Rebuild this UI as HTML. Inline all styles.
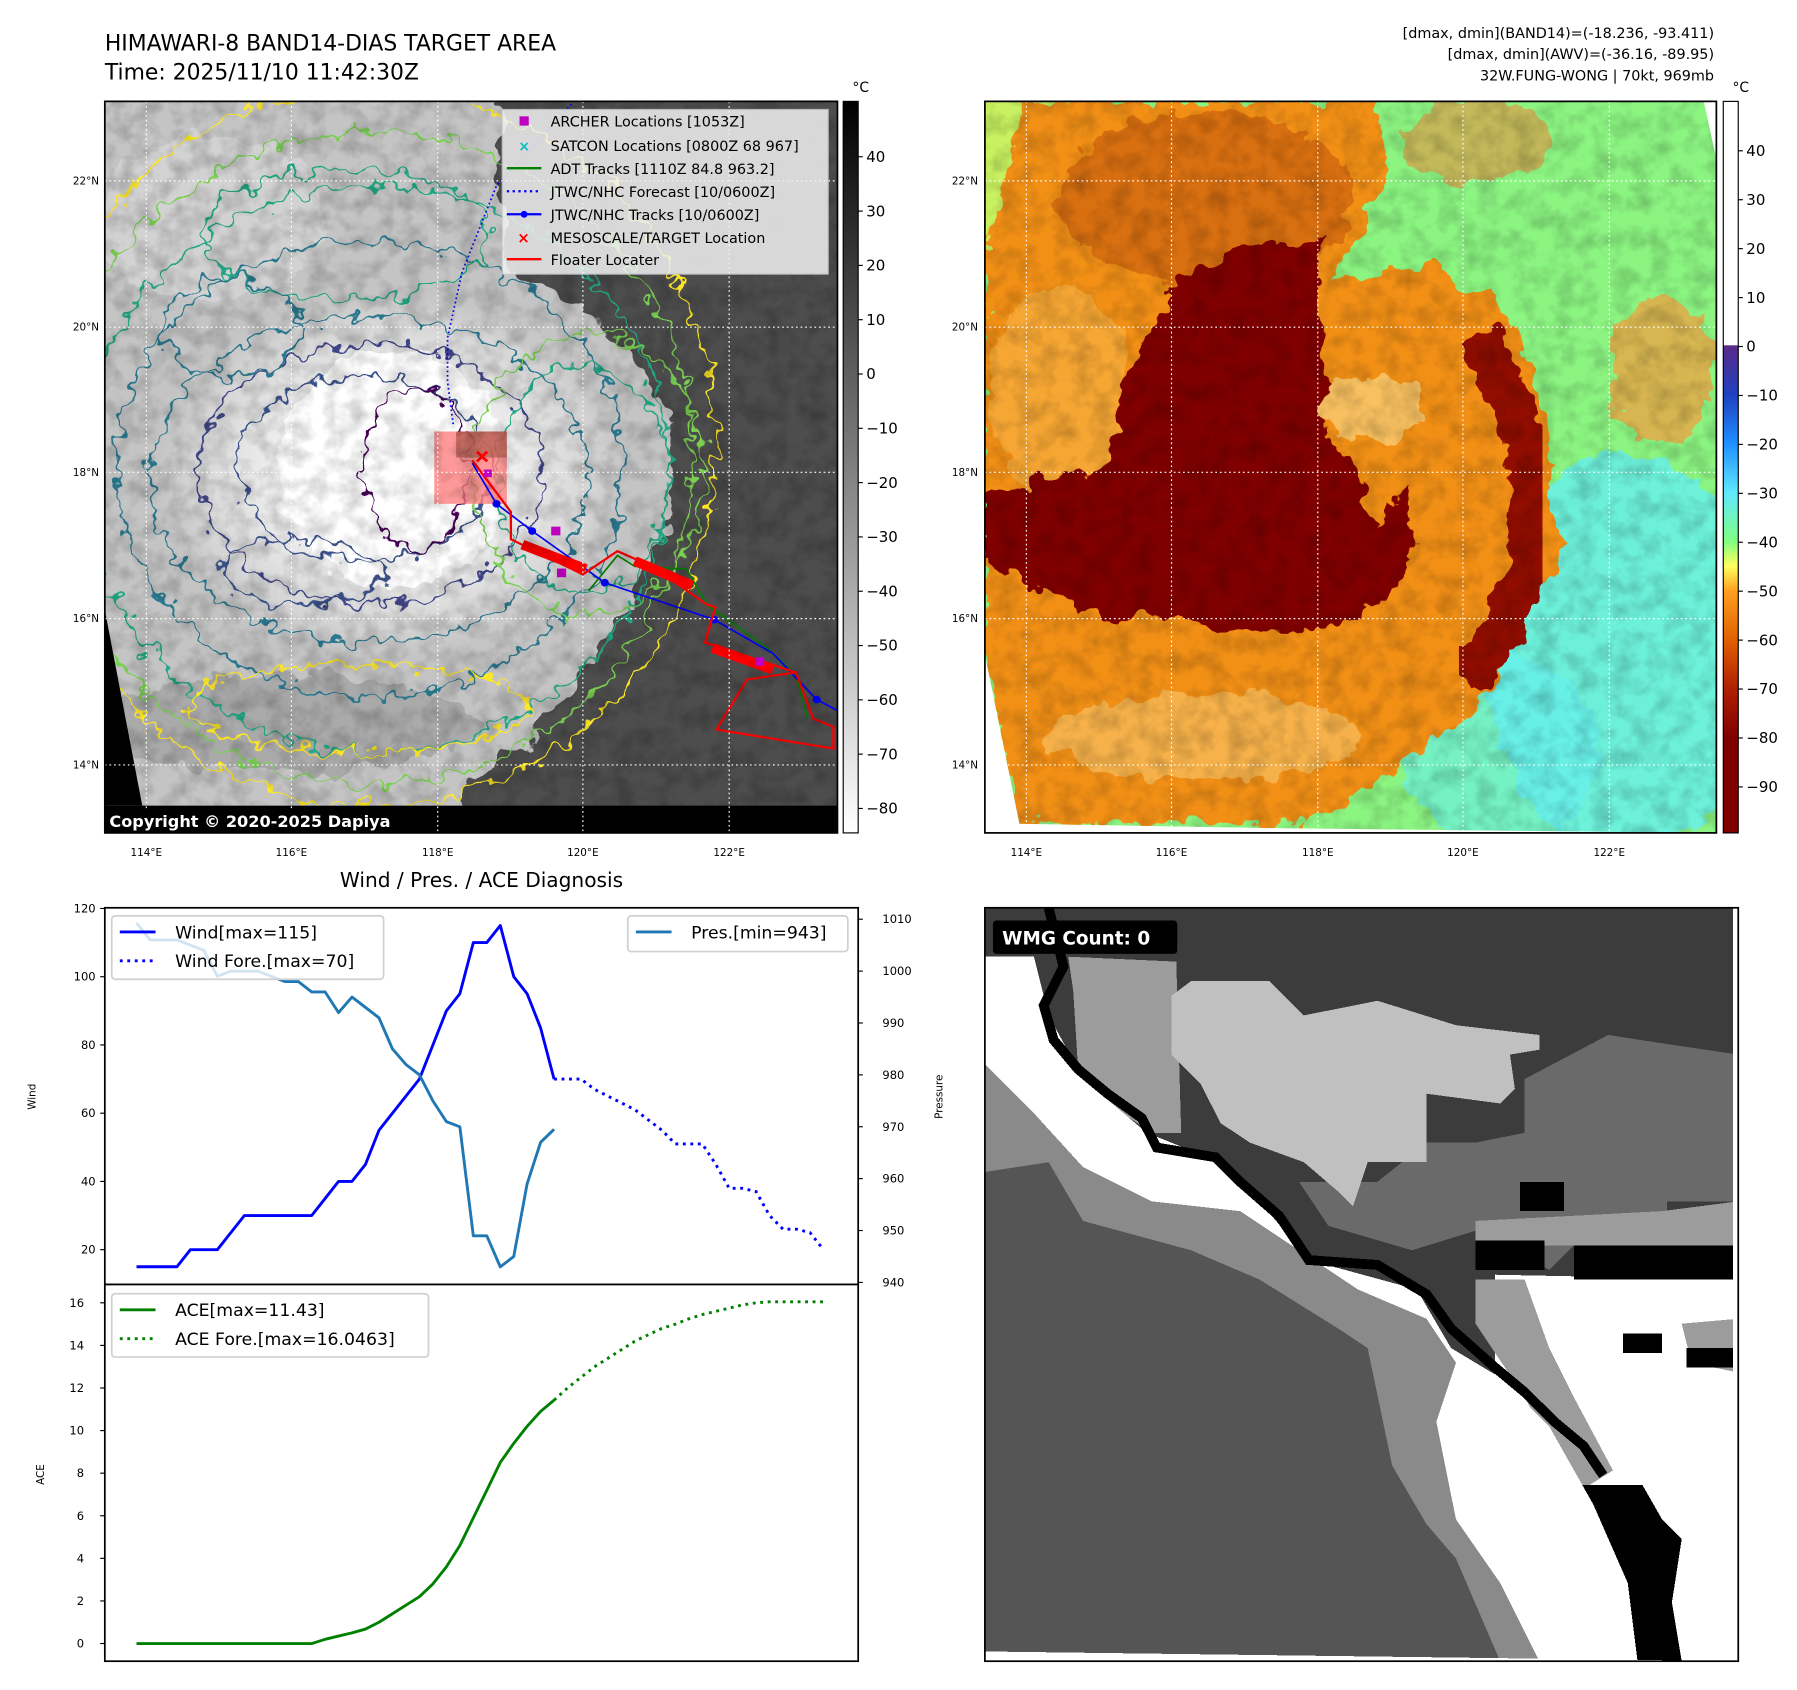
<!DOCTYPE html>
<html><head><meta charset="utf-8"><title>HIMAWARI-8 BAND14 DIAS Target Area</title>
<style>
html,body{margin:0;padding:0;background:#fff;}
svg{display:block;font-family:"DejaVu Sans","Liberation Sans",sans-serif;}
</style></head>
<body>
<svg id="fig" width="1797" height="1690" viewBox="0 0 1560 1467" preserveAspectRatio="none" xmlns="http://www.w3.org/2000/svg">
<defs>
  <filter id="rag" x="-10%" y="-10%" width="120%" height="120%">
    <feTurbulence type="fractalNoise" baseFrequency="0.02" numOctaves="3" seed="4"/>
    <feDisplacementMap in="SourceGraphic" scale="60" xChannelSelector="R" yChannelSelector="G"/>
  </filter>
  <filter id="wig" x="-10%" y="-10%" width="120%" height="120%">
    <feTurbulence type="fractalNoise" baseFrequency="0.035" numOctaves="2" seed="7"/>
    <feDisplacementMap in="SourceGraphic" scale="55" xChannelSelector="R" yChannelSelector="G"/>
  </filter>
  <filter id="soft"><feGaussianBlur stdDeviation="14"/></filter>
  <filter id="noise" x="0" y="0" width="100%" height="100%">
    <feTurbulence type="fractalNoise" baseFrequency="0.06" numOctaves="3" seed="11"/>
    <feColorMatrix type="matrix" values="0 0 0 0 0  0 0 0 0 0  0 0 0 0 0  1.6 0 0 0 -0.6"/>
  </filter>
  <filter id="noiseW" x="0" y="0" width="100%" height="100%">
    <feTurbulence type="fractalNoise" baseFrequency="0.05" numOctaves="3" seed="21"/>
    <feColorMatrix type="matrix" values="0 0 0 0 1  0 0 0 0 0.85  0 0 0 0 0.5  1.8 0 0 0 -0.9"/>
  </filter>
  <radialGradient id="cloudG" cx="0.5" cy="0.5" r="0.5">
    <stop offset="0" stop-color="#ffffff"/><stop offset="0.45" stop-color="#f0f0f0"/>
    <stop offset="0.8" stop-color="#d4d4d4"/><stop offset="1" stop-color="#c0c0c0" stop-opacity="0"/>
  </radialGradient>
  <linearGradient id="cb1" x1="0" y1="0" x2="0" y2="1">
    <stop offset="0" stop-color="#000"/><stop offset="1" stop-color="#fff"/>
  </linearGradient>
  <linearGradient id="cb2" x1="0" y1="0" x2="0" y2="1">
    <stop offset="0" stop-color="#fff"/><stop offset="0.333" stop-color="#fff"/>
    <stop offset="0.334" stop-color="#5a2a8a"/><stop offset="0.401" stop-color="#2040c0"/>
    <stop offset="0.468" stop-color="#1e90ff"/><stop offset="0.535" stop-color="#60e8ff"/>
    <stop offset="0.602" stop-color="#80ff80"/><stop offset="0.635" stop-color="#ffff60"/>
    <stop offset="0.669" stop-color="#ffa020"/><stop offset="0.736" stop-color="#e06000"/>
    <stop offset="0.803" stop-color="#b02000"/><stop offset="0.87" stop-color="#800000"/>
    <stop offset="1" stop-color="#800000"/>
  </linearGradient>
  <clipPath id="clip1"><rect x="91" y="88" width="636" height="635"/></clipPath>
  <clipPath id="clip2"><rect x="855" y="88" width="635" height="635"/></clipPath>
  <clipPath id="clip2d"><polygon points="855,88 1479,88 1490,138 1490,723 1115,719 885,715 855,568"/></clipPath>
  <clipPath id="clip4"><rect x="855" y="788" width="654" height="654"/></clipPath>
</defs>

<!-- Titles -->
<text x="91" y="44" font-size="19">HIMAWARI-8 BAND14-DIAS TARGET AREA</text>
<text x="91" y="69" font-size="19">Time: 2025/11/10 11:42:30Z</text>
<g font-size="12.5" text-anchor="end">
  <text x="1488" y="33">[dmax, dmin](BAND14)=(-18.236, -93.411)</text>
  <text x="1488" y="51">[dmax, dmin](AWV)=(-36.16, -89.95)</text>
  <text x="1488" y="70">32W.FUNG-WONG | 70kt, 969mb</text>
</g>

<!-- MAP 1 -->
<g clip-path="url(#clip1)">
  <g transform="translate(1,0.65) scale(0.5,0.4721)">
    <rect x="180" y="185" width="1272" height="1345" fill="#c4c4c4"/>
    <polygon fill="#4e4e4e" filter="url(#rag)" points="870,150 1500,150 1500,1600 700,1600 800,1450 900,1380 1000,1250 1100,1100 1160,950 1170,780 1120,680 1000,560 880,500 860,300"/>
    <ellipse cx="680" cy="870" rx="440" ry="360" fill="url(#cloudG)"/>
    <ellipse cx="680" cy="860" rx="200" ry="220" fill="#ffffff" filter="url(#rag)"/>
    <ellipse cx="500" cy="1330" rx="330" ry="90" fill="#9a9a9a" opacity="0.6" filter="url(#rag)"/>
    <ellipse cx="360" cy="400" rx="200" ry="150" fill="#d8d8d8" opacity="0.7" filter="url(#rag)"/>
    <g fill="none" stroke-width="4" filter="url(#wig)">
      <ellipse cx="640" cy="820" rx="600" ry="660" stroke="#fde725"/>
      <ellipse cx="640" cy="840" rx="560" ry="600" stroke="#7ad151"/>
      <ellipse cx="650" cy="860" rx="510" ry="520" stroke="#22a884"/>
      <ellipse cx="640" cy="860" rx="440" ry="420" stroke="#2a788e"/>
      <ellipse cx="640" cy="880" rx="380" ry="300" stroke="#2a788e"/>
      <ellipse cx="640" cy="870" rx="300" ry="240" stroke="#414487"/>
      <ellipse cx="630" cy="860" rx="220" ry="170" stroke="#3b528b"/>
      <ellipse cx="720" cy="860" rx="90" ry="150" stroke="#440154"/>
      <ellipse cx="600" cy="430" rx="250" ry="120" stroke="#22a884"/>
      <ellipse cx="1020" cy="870" rx="200" ry="260" stroke="#7ad151"/>
      <ellipse cx="1010" cy="880" rx="150" ry="210" stroke="#22a884"/>
      <ellipse cx="620" cy="1300" rx="300" ry="80" stroke="#fde725"/>
      <ellipse cx="400" cy="600" rx="120" ry="90" stroke="#2a788e"/>
      <ellipse cx="520" cy="1050" rx="140" ry="60" stroke="#3b528b"/>
    </g>
    <polygon fill="#000" points="180,1120 245,1480 180,1480"/>
    <rect x="180" y="1480" width="1272" height="60" fill="#000"/>
    <!-- tracks -->
    <rect x="752" y="792" width="126" height="133" fill="#ff8080" opacity="0.8"/>
    <rect x="790" y="792" width="88" height="48" fill="#a05040" opacity="0.6"/>
    <polyline points="990,190 860,340 800,500 775,620 775,700 785,780" fill="none" stroke="#0000ff" stroke-width="3" stroke-dasharray="3,5"/>
    <polyline points="1020,1085 1070,1020 1100,1040 1190,1045 1225,1110 1330,1190 1380,1240 1400,1320" fill="none" stroke="#008000" stroke-width="3"/>
    <polyline points="818,850 860,925 922,975 1048,1070 1238,1138 1340,1200 1416,1285 1452,1305" fill="none" stroke="#0000ff" stroke-width="3"/>
    <g fill="#0000ff"><circle cx="860" cy="925" r="7"/><circle cx="922" cy="975" r="7"/><circle cx="1048" cy="1070" r="7"/><circle cx="1238" cy="1138" r="7"/><circle cx="1416" cy="1285" r="7"/></g>
    <polyline points="818,845 885,940 885,990 1010,1055 1070,1012 1130,1040 1225,1110 1240,1115 1222,1180 1380,1235 1410,1320 1445,1335 1445,1375 1242,1340 1295,1248 1380,1235" fill="none" stroke="#ff0000" stroke-width="4"/>
    <g stroke="#ff0000" stroke-width="18" fill="none"><line x1="905" y1="1000" x2="1015" y2="1045"/><line x1="1100" y1="1030" x2="1200" y2="1075"/><line x1="1235" y1="1190" x2="1340" y2="1230"/></g>
    <g fill="#c000c0"><rect x="955" y="967" width="16" height="16"/><rect x="965" y="1044" width="16" height="16"/><rect x="1309" y="1207" width="16" height="16"/><rect x="838" y="862" width="14" height="14"/></g>
    <g stroke="#ff0000" stroke-width="5"><line x1="826" y1="829" x2="844" y2="847"/><line x1="844" y1="829" x2="826" y2="847"/></g>
  </g>
  <rect x="91" y="88" width="636" height="635" filter="url(#noise)" opacity="0.25"/>
  <g stroke="#fff" stroke-width="1" stroke-dasharray="1.5,2.5">
    <line x1="127" y1="88" x2="127" y2="723"/><line x1="253" y1="88" x2="253" y2="723"/><line x1="380" y1="88" x2="380" y2="723"/><line x1="506" y1="88" x2="506" y2="723"/><line x1="633" y1="88" x2="633" y2="723"/>
    <line x1="91" y1="157" x2="727" y2="157"/><line x1="91" y1="284" x2="727" y2="284"/><line x1="91" y1="410" x2="727" y2="410"/><line x1="91" y1="537" x2="727" y2="537"/><line x1="91" y1="664" x2="727" y2="664"/>
  </g>
</g>
<rect x="91" y="88" width="636" height="635" fill="none" stroke="#000" stroke-width="1.5"/>
<!-- map1 legend -->
<g font-size="12.5">
  <rect x="436" y="95" width="283" height="143" fill="#f2f2f2" opacity="0.85" stroke="#ccc"/>
  <rect x="451" y="101" width="8" height="8" fill="#c000c0"/>
  <text x="478" y="110">ARCHER Locations [1053Z]</text>
  <text x="450" y="131" fill="#00c0c0" font-size="12" font-weight="bold">×</text>
  <text x="478" y="131">SATCON Locations [0800Z 68 967]</text>
  <line x1="440" y1="146" x2="470" y2="146" stroke="#008000" stroke-width="2"/>
  <text x="478" y="151">ADT Tracks [1110Z 84.8 963.2]</text>
  <line x1="440" y1="166" x2="470" y2="166" stroke="#0000ff" stroke-width="2" stroke-dasharray="2,3"/>
  <text x="478" y="171">JTWC/NHC Forecast [10/0600Z]</text>
  <line x1="440" y1="186" x2="470" y2="186" stroke="#0000ff" stroke-width="2"/><circle cx="455" cy="186" r="3" fill="#0000ff"/>
  <text x="478" y="191">JTWC/NHC Tracks [10/0600Z]</text>
  <text x="449" y="211" fill="#ff0000" font-size="13" font-weight="bold">×</text>
  <text x="478" y="211">MESOSCALE/TARGET Location</text>
  <line x1="440" y1="225" x2="470" y2="225" stroke="#ff0000" stroke-width="2"/>
  <text x="478" y="230">Floater Locater</text>
</g>
<g>
  <rect x="91" y="702" width="269" height="21" fill="#000"/>
  <text x="95" y="718" font-size="14" font-weight="bold" fill="#fff">Copyright © 2020-2025 Dapiya</text>
</g>
<g font-size="9" text-anchor="end">
  <text x="86" y="160">22°N</text><text x="86" y="287">20°N</text><text x="86" y="413">18°N</text><text x="86" y="540">16°N</text><text x="86" y="667">14°N</text>
</g>
<g font-size="9" text-anchor="middle">
  <text x="127" y="743">114°E</text><text x="253" y="743">116°E</text><text x="380" y="743">118°E</text><text x="506" y="743">120°E</text><text x="633" y="743">122°E</text>
</g>
<!-- colorbar 1 -->
<g>
  <rect x="732" y="88" width="13" height="635" fill="url(#cb1)" stroke="#000" stroke-width="1"/>
  <text x="740" y="80" font-size="12">°C</text>
  <g id="cb1ticks" font-size="13"></g>
</g>

<!-- MAP 2 -->
<g clip-path="url(#clip2)">
  <rect x="855" y="88" width="635" height="635" fill="#fff"/>
  <g clip-path="url(#clip2d)">
  <g transform="translate(855,88) scale(0.4262,0.4178)">
    <rect x="0" y="0" width="1490" height="1520" fill="#8cf582"/>
    <ellipse cx="1300" cy="1150" rx="280" ry="420" fill="#66f0f0" filter="url(#rag)" opacity="0.8"/>
    <ellipse cx="1050" cy="1350" rx="200" ry="200" fill="#66f0f0" filter="url(#rag)" opacity="0.6"/>
    <ellipse cx="60" cy="150" rx="150" ry="220" fill="#c8f060" filter="url(#soft)"/>
    <ellipse cx="1380" cy="560" rx="110" ry="150" fill="#f0a040" filter="url(#rag)" opacity="0.75"/>
    <ellipse cx="1000" cy="80" rx="150" ry="90" fill="#e89040" filter="url(#rag)" opacity="0.6"/>
    <polygon fill="#f29018" filter="url(#rag)" points="80,0 800,0 820,150 760,280 700,380 900,340 1050,420 1120,560 1150,700 1150,850 1180,920 1120,1050 1050,1200 960,1300 820,1400 650,1500 70,1500 0,1150 0,300"/>
    <ellipse cx="450" cy="200" rx="300" ry="180" fill="#c85a08" filter="url(#rag)" opacity="0.6"/>
    <ellipse cx="150" cy="600" rx="140" ry="220" fill="#f8b040" filter="url(#rag)" opacity="0.7"/>
    <ellipse cx="450" cy="1320" rx="320" ry="90" fill="#f8c060" filter="url(#rag)" opacity="0.7"/>
    <path d="M1000,480 Q1130,700 1120,900 Q1080,1100 980,1200" fill="none" stroke="#901000" stroke-width="90" filter="url(#rag)"/>
    <polygon fill="#800000" filter="url(#rag)" points="380,380 520,300 680,290 680,560 720,600 680,680 760,760 790,880 870,800 880,900 840,1000 760,1080 650,1100 500,1100 400,1080 200,1060 80,1000 0,950 0,830 100,790 250,760 280,600 350,450"/>
    <ellipse cx="790" cy="640" rx="110" ry="70" fill="#f8c060" filter="url(#rag)"/>
  </g>
  <rect x="855" y="88" width="635" height="635" filter="url(#noise)" opacity="0.22"/>
  </g>
  <g stroke="#fff" stroke-width="1" stroke-dasharray="1.5,2.5">
    <line x1="891" y1="88" x2="891" y2="723"/><line x1="1017" y1="88" x2="1017" y2="723"/><line x1="1144" y1="88" x2="1144" y2="723"/><line x1="1270" y1="88" x2="1270" y2="723"/><line x1="1397" y1="88" x2="1397" y2="723"/>
    <line x1="855" y1="157" x2="1490" y2="157"/><line x1="855" y1="284" x2="1490" y2="284"/><line x1="855" y1="410" x2="1490" y2="410"/><line x1="855" y1="537" x2="1490" y2="537"/><line x1="855" y1="664" x2="1490" y2="664"/>
  </g>
</g>
<rect x="855" y="88" width="635" height="635" fill="none" stroke="#000" stroke-width="1.5"/>
<g font-size="9" text-anchor="end">
  <text x="849" y="160">22°N</text><text x="849" y="287">20°N</text><text x="849" y="413">18°N</text><text x="849" y="540">16°N</text><text x="849" y="667">14°N</text>
</g>
<g font-size="9" text-anchor="middle">
  <text x="891" y="743">114°E</text><text x="1017" y="743">116°E</text><text x="1144" y="743">118°E</text><text x="1270" y="743">120°E</text><text x="1397" y="743">122°E</text>
</g>
<g>
  <rect x="1496" y="88" width="13" height="635" fill="url(#cb2)" stroke="#000" stroke-width="1"/>
  <text x="1504" y="80" font-size="12">°C</text>
  <g id="cb2ticks" font-size="13"></g>
</g>

<!-- PANEL 4 -->
<g clip-path="url(#clip4)">
  <rect x="855" y="788" width="654" height="654" fill="#fff"/>
  <g transform="translate(855,788) scale(0.426,0.4247)" shape-rendering="crispEdges">
    <rect x="0" y="0" width="1535" height="1520" fill="#3c3c3c"/>
    <polygon fill="#6a6a6a" points="1100,350 1270,260 1400,280 1535,300 1535,600 1390,600 1390,700 1200,690 1150,740 1000,660 870,700 700,650 640,560 800,560 900,480 1000,480 1100,460"/>
    <polygon fill="#9c9c9c" points="170,100 390,110 400,460 340,460 250,400 190,330 180,170"/>
    <polygon fill="#9c9c9c" points="1000,640 1380,620 1535,600 1535,700 1270,700 1200,690 1000,690"/>
    <polygon fill="#c0c0c0" points="380,180 420,150 580,150 650,220 800,190 960,240 1130,260 1130,290 1070,300 1080,370 1050,400 900,380 900,520 780,520 750,610 720,580 650,520 540,480 480,440 440,360 380,300"/>
    <polygon fill="#fff" points="1040,750 1535,760 1535,1540 1040,1540"/>
    <polygon fill="#9c9c9c" points="1000,760 1100,760 1150,900 1200,1000 1280,1150 1200,1200 1100,1000 1000,850"/>
    <polygon fill="#9c9c9c" points="1420,850 1535,840 1535,950 1440,930"/>
    <polygon fill="#000" points="1180,1180 1340,1180 1380,1250 1420,1290 1400,1420 1420,1540 1230,1540 1150,1420 1190,1300"/>
    <rect x="1000" y="680" width="140" height="60" fill="#000"/>
    <rect x="1200" y="690" width="335" height="70" fill="#000"/>
    <rect x="1300" y="870" width="80" height="40" fill="#000"/>
    <rect x="1430" y="900" width="105" height="40" fill="#000"/>
    <rect x="1090" y="560" width="90" height="60" fill="#000"/>
    <polygon fill="#fff" points="0,100 100,100 130,220 200,350 330,460 480,520 560,600 660,720 880,780 950,900 1050,960 1150,1060 1240,1220 1310,1380 1330,1540 1130,1540 1050,1380 960,1250 920,1050 960,930 900,840 760,780 640,700 520,620 340,600 200,530 100,420 0,320"/>
    <polygon fill="#8a8a8a" points="0,320 100,420 200,530 340,600 520,620 640,700 760,780 900,840 960,930 920,1050 960,1250 1050,1380 1130,1540 1050,1540 960,1330 900,1260 830,1140 780,900 720,860 560,760 420,700 200,640 130,520 0,540"/>
    <polygon fill="#555" points="0,540 130,520 200,640 420,700 560,760 720,860 780,900 830,1140 900,1260 960,1330 1050,1540 0,1520"/>
    <polyline fill="none" stroke="#000" stroke-width="20" points="130,0 160,120 120,200 140,270 190,330 250,380 320,430 350,490 470,510 520,560 600,630 660,720 800,730 900,790 950,860 1040,940 1100,990 1160,1050 1220,1100 1260,1160"/>
    <polygon fill="#fff" points="0,1520 1535,1540 1535,1560 0,1560"/>
    <rect x="1525" y="0" width="20" height="1560" fill="#fff"/>
  </g>
</g>
<rect x="855" y="788" width="654" height="654" fill="none" stroke="#000" stroke-width="1.5"/>
<g>
  <rect x="862" y="799" width="160" height="29" rx="3" fill="#000"/>
  <text x="870" y="820" font-size="16" font-weight="bold" fill="#fff">WMG Count: 0</text>
</g>

<!-- CHARTS -->
<text x="418" y="770" font-size="17.5" text-anchor="middle">Wind / Pres. / ACE Diagnosis</text>
<g id="charts"></g>
<text transform="translate(31,952) rotate(-90)" font-size="9" text-anchor="middle">Wind</text>
<text transform="translate(818,952) rotate(-90)" font-size="9" text-anchor="middle">Pressure</text>
<text transform="translate(38,1280) rotate(-90)" font-size="9" text-anchor="middle">ACE</text>
</svg>

<script>
// ---- chart data ----
const windObs = [15,15,15,15,20,20,20,25,30,30,30,30,30,30,35,40,40,45,55,60,65,70,80,90,95,110,110,115,100,95,85,70];
const windFore = [70,70,70,67,65,63,61,58,55,51,51,51,45,38,38,37,30,26,26,25,20];
const presObs = [1009.3,1006,1006,1006,1005,1004,999,1000,1000,1000,999,998,998,996,996,992,995,993,991,985,982,980,975,971,970,949,949,943,945,959,967,969.5];
const aceObs = [0,0,0,0,0,0,0,0,0,0,0,0,0,0,0.2,0.35,0.5,0.68,1.0,1.4,1.8,2.2,2.8,3.6,4.6,5.9,7.2,8.5,9.4,10.2,10.9,11.43];
const aceFore = [11.43,12.0,12.5,13.0,13.4,13.8,14.2,14.5,14.8,15.0,15.25,15.45,15.6,15.75,15.9,16.0,16.05,16.05,16.05,16.05,16.05];
const windTicks = [20,40,60,80,100,120];
const presTicks = [940,950,960,970,980,990,1000,1010];
const aceTicks = [0,2,4,6,8,10,12,14,16];
const cb1Ticks = [40,30,20,10,0,-10,-20,-30,-40,-50,-60,-70,-80];
const cb2Ticks = [40,30,20,10,0,-10,-20,-30,-40,-50,-60,-70,-80,-90];

const NS = 'http://www.w3.org/2000/svg';
const PX0 = 91, PX1 = 745, TOP = 788, MID = 1115, BOT = 1442;
function xIdx(i){ return PX0 + (PX1-PX0)*(0.0421 + 0.01788*i); }
function yWind(v){ return TOP + (120.2 - v)/(120.2-9.8)*(MID-TOP); }
function yPres(p){ return TOP + (1012.2 - p)/(1012.2-939.6)*(MID-TOP); }
function yAce(a){ return MID + (16.86 - a)/(16.86+0.83)*(BOT-MID); }
function yCb1(v){ return 88 + (50.2 - v)/(50.2+84.5)*635; }
function yCb2(v){ return 88 + (50.1 - v)/(50.1+99.4)*635; }

const root = document.getElementById('charts');
function mk(tag, attrs, parent){
  const e = document.createElementNS(NS, tag);
  for (const k in attrs) e.setAttribute(k, attrs[k]);
  (parent||root).appendChild(e);
  return e;
}
function pts(arr, off, yf){ return arr.map((v,i)=> xIdx(i+off).toFixed(1)+','+yf(v).toFixed(1)).join(' '); }

let f1 = mk('rect',{x:PX0,y:TOP,width:PX1-PX0,height:MID-TOP,fill:'#fff',stroke:'#000','stroke-width':1.5});


let f2 = mk('rect',{x:PX0,y:MID,width:PX1-PX0,height:BOT-MID,fill:'#fff',stroke:'#000','stroke-width':1.5});



windTicks.forEach(v=>{
  const y=yWind(v);
  const t=mk('line',{x1:PX0-4,y1:y,x2:PX0,y2:y,stroke:'#000'});
  
  
  const l=mk('text',{x:PX0-8,y:y+3.5,'font-size':10,'text-anchor':'end'}); l.textContent=v;
  
  
});
presTicks.forEach(v=>{
  const y=yPres(v);
  const t=mk('line',{x1:PX1,y1:y,x2:PX1+4,y2:y,stroke:'#000'});
  
  
  const l=mk('text',{x:PX1+21,y:y+3.5,'font-size':10,'text-anchor':'start'}); l.textContent=v;
  
  
});
aceTicks.forEach(v=>{
  const y=yAce(v);
  const t=mk('line',{x1:PX0-4,y1:y,x2:PX0,y2:y,stroke:'#000'});
  
  
  const l=mk('text',{x:PX0-18,y:y+3.5,'font-size':10,'text-anchor':'end'}); l.textContent=v;
  
  
});

let s1=mk('polyline',{points:pts(windObs,0,yWind),fill:'none',stroke:'#0000ff','stroke-width':2.5,'stroke-linejoin':'round'});


let s2=mk('polyline',{points:pts(windFore,windObs.length-1,yWind),fill:'none',stroke:'#0000ff','stroke-width':2.5,'stroke-dasharray':'2.5,4'});


let s3=mk('polyline',{points:pts(presObs,0,yPres),fill:'none',stroke:'#1f77b4','stroke-width':2.5,'stroke-linejoin':'round'});


let s4=mk('polyline',{points:pts(aceObs,0,yAce),fill:'none',stroke:'#008000','stroke-width':2.5,'stroke-linejoin':'round'});


let s5=mk('polyline',{points:pts(aceFore,aceObs.length-1,yAce),fill:'none',stroke:'#008000','stroke-width':2.5,'stroke-dasharray':'2.5,4'});



function legend(name,x,y,w,h,entries){
  const g=mk('g',{});
  
  
  mk('rect',{x:x,y:y,width:w,height:h,rx:3,fill:'#fff','fill-opacity':0.8,stroke:'#d0d0d0','stroke-width':1.5},g);
  entries.forEach((e,i)=>{
    const cy=y+14+i*25;
    const a={x1:x+7,y1:cy,x2:x+38,y2:cy,stroke:e.c,'stroke-width':2.5};
    if(e.d) a['stroke-dasharray']='2.5,4';
    mk('line',a,g);
    const t=mk('text',{x:x+55,y:cy+5.5,'font-size':15},g); t.textContent=e.t;
  });
}
legend('wind-legend',97,795,236,55,[{c:'#0000ff',t:'Wind[max=115]'},{c:'#0000ff',t:'Wind Fore.[max=70]',d:1}]);
legend('pressure-legend',545,795,191,31,[{c:'#1f77b4',t:'Pres.[min=943]'}]);
legend('ace-legend',97,1123,275,55,[{c:'#008000',t:'ACE[max=11.43]'},{c:'#008000',t:'ACE Fore.[max=16.0463]',d:1}]);

const cb1=document.getElementById('cb1ticks');
cb1Ticks.forEach(v=>{
  const y=yCb1(v);
  mk('line',{x1:745,y1:y,x2:749,y2:y,stroke:'#000'},cb1);
  const t=mk('text',{x:752,y:y+4.5},cb1); t.textContent=(v<0?'\u2212'+(-v):v);
  
  
});
const cb2=document.getElementById('cb2ticks');
cb2Ticks.forEach(v=>{
  const y=yCb2(v);
  mk('line',{x1:1509,y1:y,x2:1513,y2:y,stroke:'#000'},cb2);
  const t=mk('text',{x:1516,y:y+4.5},cb2); t.textContent=(v<0?'\u2212'+(-v):v);
  
  
});
</script>
</body></html>
